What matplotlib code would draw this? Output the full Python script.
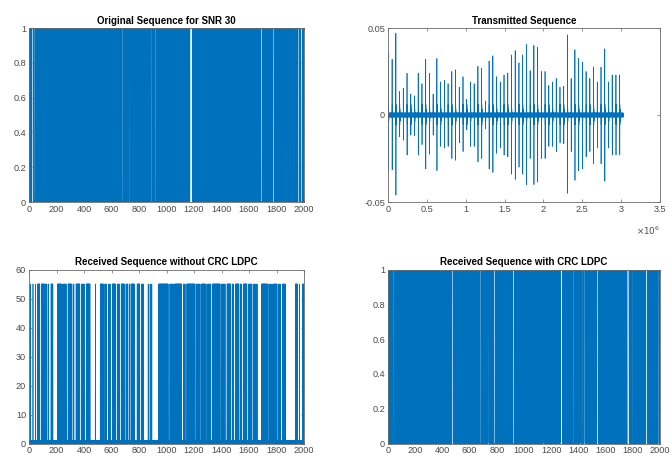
import numpy as np
import matplotlib.pyplot as plt

plt.rcParams['font.family'] = ['Liberation Sans', 'DejaVu Sans']

BLUE = '#0072BD'
N_BITS = 2000

# Original bits: long constant runs (start, length, level); in between the bits toggle
orig_runs = [(20, 9, 1), (33, 9, 0), (474, 10, 1), (676, 10, 0), (727, 9, 1),
             (773, 9, 0), (887, 10, 1), (916, 10, 0), (1170, 18, 1), (1208, 10, 0),
             (1377, 9, 1), (1602, 9, 0), (1673, 10, 1), (1686, 10, 0), (1772, 10, 1),
             (1806, 9, 0), (1869, 9, 1), (1921, 10, 0), (1953, 10, 1), (1977, 10, 0)]

# Decoded bits with CRC LDPC, same encoding
crc_runs = [(17, 9, 1), (36, 9, 0), (470, 10, 1), (677, 10, 0), (733, 9, 1),
            (779, 10, 0), (877, 10, 1), (916, 10, 0), (1135, 10, 1), (1179, 9, 0),
            (1266, 16, 1), (1360, 10, 0), (1408, 10, 1), (1423, 9, 0), (1438, 10, 1),
            (1479, 9, 0), (1536, 10, 1), (1752, 10, 0), (1764, 9, 1), (1794, 12, 0),
            (1896, 12, 1), (1935, 9, 0), (1982, 10, 1)]

# Received without CRC: bursts of 55-valued samples (start, stop, step) over a 0/1 floor
rx_level = 55
rx_bursts = [(8, 9, 1), (28, 29, 1), (47, 48, 1),
             (63, 78, 2), (90, 110, 2), (116, 128, 3), (138, 146, 4), (160, 174, 2),
             (207, 234, 2), (245, 272, 4), (284, 308, 2), (320, 330, 5),
             (342, 370, 2), (382, 406, 4), (416, 443, 2), (482, 483, 1),
             (518, 540, 2), (551, 566, 4), (577, 595, 6), (606, 630, 2),
             (641, 660, 4), (670, 694, 2), (705, 718, 4), (728, 737, 5),
             (746, 766, 2), (786, 806, 2), (818, 831, 4),
             (866, 867, 1), (880, 881, 1), (892, 893, 1),
             (944, 1012, 2), (1024, 1050, 4), (1060, 1110, 2), (1122, 1136, 4),
             (1148, 1208, 2), (1219, 1245, 4), (1256, 1282, 2), (1293, 1322, 4),
             (1334, 1390, 2), (1401, 1428, 4), (1440, 1465, 2), (1477, 1490, 5),
             (1501, 1526, 2), (1536, 1548, 5), (1559, 1585, 2), (1596, 1621, 4),
             (1634, 1660, 6), (1691, 1732, 2), (1744, 1770, 6), (1780, 1799, 2),
             (1810, 1831, 6), (1842, 1866, 3), (1937, 1953, 2), (1966, 1967, 1),
             (1988, 1998, 2)]

# Transmitted waveform: one pulse per symbol, peak and trough amplitudes
tx_peak = [0.036, 0.032, 0.047, 0.0135, 0.0155, 0.024, 0.012, 0.011, 0.024, 0.018,
           0.032, 0.024, 0.012, 0.0325, 0.019, 0.020, 0.018, 0.025, 0.026, 0.016,
           0.022, 0.009, 0.019, 0.018, 0.028, 0.027, 0.008, 0.031, 0.034, 0.022,
           0.019, 0.023, 0.024, 0.0345, 0.037, 0.030, 0.0345, 0.0405, 0.0255, 0.040,
           0.039, 0.025, 0.025, 0.017, 0.019, 0.021, 0.016, 0.0165, 0.046, 0.021,
           0.0375, 0.0325, 0.0305, 0.025, 0.021, 0.0275, 0.019, 0.0275, 0.038, 0.019,
           0.023, 0.023, 0.023]
tx_trough = [0.032, 0.0315, 0.046, 0.0125, 0.0145, 0.023, 0.0115, 0.012, 0.023, 0.017,
             0.031, 0.0225, 0.0115, 0.032, 0.018, 0.019, 0.018, 0.025, 0.026, 0.016,
             0.021, 0.0085, 0.018, 0.018, 0.027, 0.025, 0.008, 0.031, 0.033, 0.022,
             0.019, 0.023, 0.024, 0.034, 0.037, 0.030, 0.034, 0.040, 0.025, 0.040,
             0.0385, 0.025, 0.025, 0.018, 0.018, 0.021, 0.016, 0.0165, 0.045, 0.021,
             0.0375, 0.032, 0.031, 0.024, 0.021, 0.028, 0.019, 0.028, 0.038, 0.019,
             0.023, 0.023, 0.023]
tx_ring = [0.006, -0.0055, 0.0035, -0.0035]
tx_floor = 0.0011
tx_start, tx_period, tx_step = 5000, 48000, 1000


def bits_from_runs(runs):
    bits = np.arange(N_BITS) % 2
    for start, length, level in runs:
        bits[start:start + length] = level
    return bits


idx = np.arange(1, N_BITS + 1)
orig_bits = bits_from_runs(orig_runs)
crc_bits = bits_from_runs(crc_runs)

rx = np.zeros(N_BITS)
high = np.zeros(N_BITS, dtype=bool)
for a, b, s in rx_bursts:
    high[a:b:s] = True
rx[high] = rx_level
rx[~high] = np.arange((~high).sum()) % 2   # floor keeps toggling between 0 and 1

# pulse train
n_per = tx_period // tx_step
tx_x, tx_y = [], []
for k, (p, t) in enumerate(zip(tx_peak, tx_trough)):
    seg = [tx_floor * (-1) ** j for j in range(n_per)]
    seg[0], seg[1] = p, -t
    seg[2:2 + len(tx_ring)] = tx_ring
    base = tx_start + k * tx_period
    tx_x.extend(base + tx_step * np.arange(n_per))
    tx_y.extend(seg)
tx_x = np.array(tx_x, dtype=float)
tx_y = np.array(tx_y)


def style(ax):
    for s in ax.spines.values():
        s.set_color('#6a6a6a')
        s.set_linewidth(0.6)
    ax.tick_params(direction='in', length=2.5, width=0.5, color='#6a6a6a',
                   labelsize=6.6, labelcolor='#4a4a4a', top=True, right=True, pad=2)


fig = plt.figure(figsize=(6.7, 4.62), dpi=100)
ax1 = fig.add_axes([29 / 670, 1 - 202 / 462, 275 / 670, 174 / 462])
ax2 = fig.add_axes([388 / 670, 1 - 202 / 462, 272 / 670, 174 / 462])
ax3 = fig.add_axes([29 / 670, 1 - 443.5 / 462, 275 / 670, 174 / 462])
ax4 = fig.add_axes([388 / 670, 1 - 443.5 / 462, 272 / 670, 174 / 462])

title_kw = dict(fontsize=7.0, fontweight='bold', pad=3)

ax1.plot(idx, orig_bits, color=BLUE, lw=0.55)
ax1.set_xlim(0, 2000)
ax1.set_ylim(0, 1)
ax1.set_xticks(range(0, 2001, 200))
ax1.set_yticks([0, 0.2, 0.4, 0.6, 0.8, 1])
ax1.set_yticklabels(['0', '0.2', '0.4', '0.6', '0.8', '1'])
ax1.set_title('Original Sequence for SNR 30', **title_kw)

ax2.plot(tx_x, tx_y, color=BLUE, lw=0.5)
ax2.set_xlim(0, 3.5e6)
ax2.set_ylim(-0.05, 0.05)
ax2.set_xticks(np.arange(0, 3.51e6, 0.5e6))
ax2.set_xticklabels(['0', '0.5', '1', '1.5', '2', '2.5', '3', '3.5'])
ax2.set_yticks([-0.05, 0, 0.05])
ax2.set_yticklabels(['-0.05', '0', '0.05'])
ax2.set_title('Transmitted Sequence', **title_kw)
ax2.text(1.0, -0.165, r'$\times10^{6}$', transform=ax2.transAxes,
         ha='right', va='center', fontsize=6.3, color='#4a4a4a')

ax3.plot(idx, rx, color=BLUE, lw=0.5)
ax3.set_xlim(0, 2000)
ax3.set_ylim(0, 60)
ax3.set_xticks(range(0, 2001, 200))
ax3.set_yticks(range(0, 61, 10))
ax3.set_title('Received Sequence without CRC LDPC', **title_kw)

ax4.plot(idx, crc_bits, color=BLUE, lw=0.55)
ax4.set_xlim(0, 2000)
ax4.set_ylim(0, 1)
ax4.set_xticks(range(0, 2001, 200))
ax4.set_yticks([0, 0.2, 0.4, 0.6, 0.8, 1])
ax4.set_yticklabels(['0', '0.2', '0.4', '0.6', '0.8', '1'])
ax4.set_title('Received Sequence with CRC LDPC', **title_kw)

for ax in (ax1, ax2, ax3, ax4):
    style(ax)

fig.savefig('out.png', dpi=100, facecolor='white')
